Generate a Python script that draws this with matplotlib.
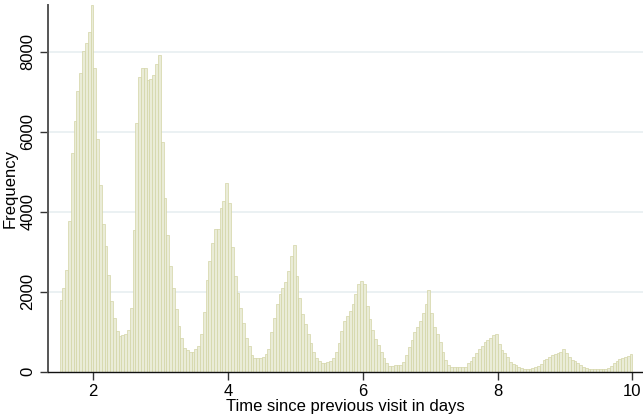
import numpy as np
import matplotlib
matplotlib.use("Agg")
import matplotlib.pyplot as plt

# histogram of return times, hourly bins (width 1/24 day) starting at 1.5 days
bin_start = 1.5
bin_width = 1 / 24

day1_half = [1792, 2100, 2542, 3767, 5459, 6275, 7025, 7475, 8017, 8209, 8492, 9167]
day2 = [7600, 5809, 4667, 3692, 3142, 2417, 1767, 1334, 1017, 892, 917, 934,
        1042, 1584, 3542, 6225, 7359, 7584, 7584, 7292, 7309, 7417, 7692, 7917]
day3 = [5734, 4350, 3417, 2642, 2100, 1559, 1142, 850, 583, 542, 484, 500,
        567, 642, 942, 1484, 2292, 2767, 3209, 3559, 3567, 4084, 4267, 4709]
day4 = [4209, 3125, 2400, 1959, 1584, 1225, 850, 642, 417, 350, 334, 350,
        375, 442, 559, 1000, 1334, 1684, 1942, 2100, 2250, 2525, 2900, 3167]
day5 = [2392, 1834, 1442, 1192, 942, 709, 500, 334, 267, 225, 225, 234,
        275, 334, 500, 709, 1025, 1267, 1400, 1525, 1692, 1942, 2183, 2275]
day6 = [2183, 1642, 1309, 1042, 809, 659, 500, 334, 225, 150, 150, 167,
        167, 167, 234, 417, 625, 792, 1000, 1125, 1267, 1459, 1684, 2034]
day7 = [1475, 1125, 934, 750, 500, 292, 167, 109, 109, 109, 109, 109,
        125, 209, 275, 375, 459, 559, 642, 750, 792, 834, 917, 942]
day8 = [692, 542, 459, 375, 250, 192, 167, 109, 84, 67, 67, 67,
        84, 109, 142, 192, 292, 309, 359, 417, 442, 475, 500, 559]
day9 = [475, 359, 292, 275, 225, 167, 125, 84, 67, 59, 59, 59,
        59, 59, 67, 84, 142, 209, 275, 317, 350, 375, 400, 434]

freq = np.array(day1_half + day2 + day3 + day4 + day5 + day6 + day7 + day8 + day9)
edges = bin_start + bin_width * np.arange(len(freq))

xticks = [2, 4, 6, 8, 10]
yticks = [0, 2000, 4000, 6000, 8000]

plt.rcParams['font.family'] = ['Liberation Sans', 'DejaVu Sans']

fig = plt.figure(figsize=(6.43, 4.20), dpi=100)
ax = fig.add_axes([0.0742, 0.115, 0.9258, 0.873])

for yv in yticks[1:]:
    ax.axhline(yv, color='#e8eff1', lw=1.2, zorder=0)

ax.bar(edges, freq, width=bin_width, align='edge', color='#eaecd8',
       edgecolor='#d3d4a6', linewidth=0.5, zorder=2)

ax.set_xlim(1.3234, 10.156)
ax.set_ylim(0, freq.max())

ax.set_xticks(xticks)
ax.set_yticks(yticks)
ax.set_yticklabels([str(v) for v in yticks], rotation=90, va='center')
ax.tick_params(axis='both', labelsize=12, length=6, width=1, color='#333333')
ax.tick_params(axis='x', pad=3)
ax.tick_params(axis='y', pad=3)

ax.spines['top'].set_visible(False)
ax.spines['right'].set_visible(False)
ax.spines['left'].set_color('#555555')
ax.spines['left'].set_linewidth(1.4)
ax.spines['bottom'].set_color('#111111')
ax.spines['bottom'].set_linewidth(1.0)

ax.set_xlabel('Time since previous visit in days', fontsize=12, labelpad=0)
ax.set_ylabel('Frequency', fontsize=12, labelpad=2)

fig.savefig('out.png', dpi=100)
